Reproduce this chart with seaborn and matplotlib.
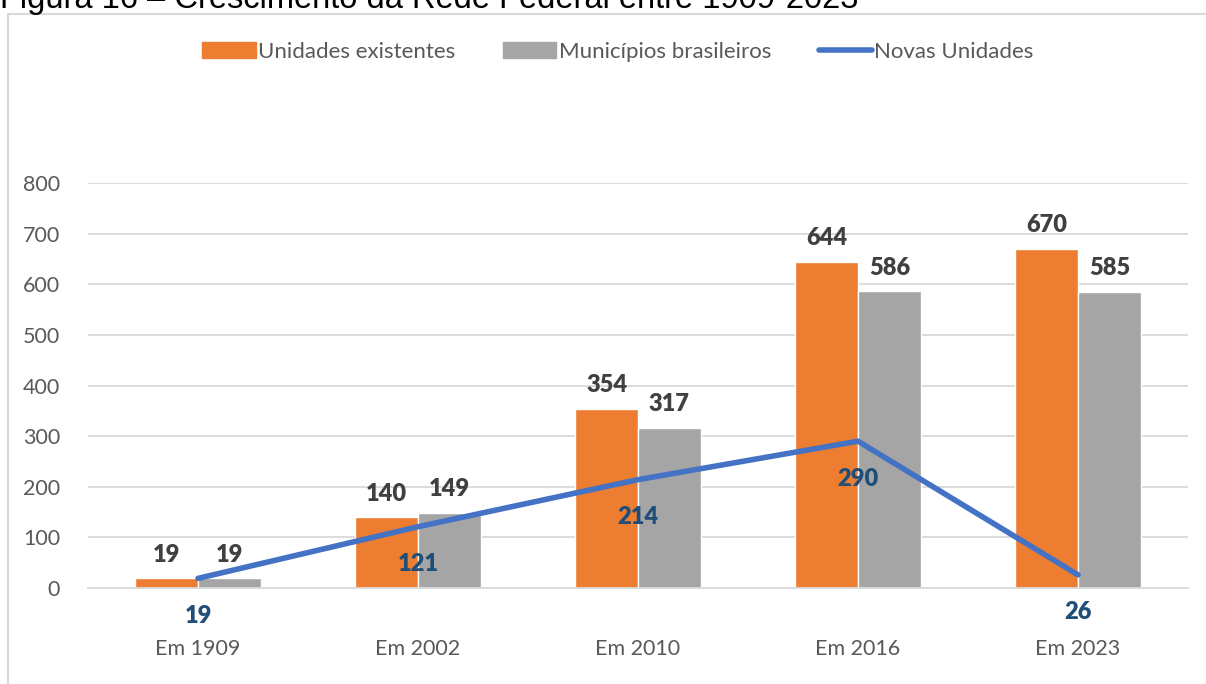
import matplotlib
matplotlib.use("Agg")
import matplotlib.pyplot as plt
import seaborn as sns
import pandas as pd
from matplotlib.patches import Rectangle
from matplotlib.lines import Line2D
from matplotlib.patches import Patch

categories = ["Em 1909", "Em 2002", "Em 2010", "Em 2016", "Em 2023"]
unidades_existentes = [19, 140, 354, 644, 670]
municipios = [19, 149, 317, 586, 585]
novas_unidades = [19, 121, 214, 290, 26]
series_names = ["Unidades existentes", "Municípios brasileiros", "Novas Unidades"]
yticks = [0, 100, 200, 300, 400, 500, 600, 700, 800]

sns.set_theme(style="white")
plt.rcParams['font.family'] = ['Lato', 'DejaVu Sans']

df = pd.DataFrame({
    "cat": categories * 2,
    "val": unidades_existentes + municipios,
    "serie": [series_names[0]] * 5 + [series_names[1]] * 5,
})

fig = plt.figure(figsize=(12.06, 6.84), dpi=100)
W, H = 1206, 684
ax = fig.add_axes([88 / W, 1 - 588 / H, 1100 / W, (588 - 183) / H])

orange = "#ED7D31"
gray = "#A5A5A5"
blue = "#4472C4"

sns.barplot(data=df, x="cat", y="val", hue="serie", palette=[orange, gray],
            width=0.57, ax=ax, legend=False, saturation=1, gap=0)
ax.plot(range(len(categories)), novas_unidades, color=blue, lw=4,
        solid_capstyle="round", zorder=5)

ax.set_xlim(-0.5, 4.5)
ax.set_ylim(0, 800)
ax.set_yticks(yticks)
ax.set_xlabel("")
ax.set_ylabel("")
ax.yaxis.grid(True, color="#D9D9D9", lw=1.3)
ax.set_axisbelow(True)
for s in ["left", "right", "top"]:
    ax.spines[s].set_visible(False)
ax.spines["bottom"].set_color("#D9D9D9")
ax.spines["bottom"].set_linewidth(1.3)
ax.tick_params(axis="both", length=0, labelsize=15.5, labelcolor="#595959")
ax.tick_params(axis="y", pad=20)
ax.tick_params(axis="x", pad=37)

for c in ax.containers:
    for bar in c:
        h = bar.get_height()
        ax.annotate(f"{int(round(h))}", (bar.get_x() + bar.get_width() / 2, h),
                    xytext=(0, 9), textcoords="offset points", ha="center",
                    va="bottom", fontsize=17, fontweight="heavy", color="#404040")

for i, v in enumerate(novas_unidades):
    ax.annotate(f"{v}", (i, v), xytext=(0, -27), textcoords="offset points",
                ha="center", va="center", fontsize=17, fontweight="heavy",
                color="#1F4E79", zorder=6)

handles = [Patch(color=orange), Patch(color=gray),
           Line2D([0], [0], color=blue, lw=4, solid_capstyle="round")]
fig.legend(handles, series_names, loc="center", bbox_to_anchor=(618 / W, 1 - 52 / H),
           ncol=3, frameon=False, fontsize=16, labelcolor="#595959",
           handlelength=2.4, handletextpad=0.1, columnspacing=2.15,
           handleheight=0.7)

fig.add_artist(Rectangle((8 / W, -0.01), 1.1, 1 - 14 / H + 0.01, transform=fig.transFigure,
                         fill=False, edgecolor="#D9D9D9", lw=1.5))
fig.text(0, 1 - 8 / H, "Figura 16 – Crescimento da Rede Federal entre 1909-2023",
         fontsize=23.5, family=["Liberation Sans", "DejaVu Sans"], color="black",
         ha="left", va="baseline")

fig.savefig("out.png", dpi=100)
